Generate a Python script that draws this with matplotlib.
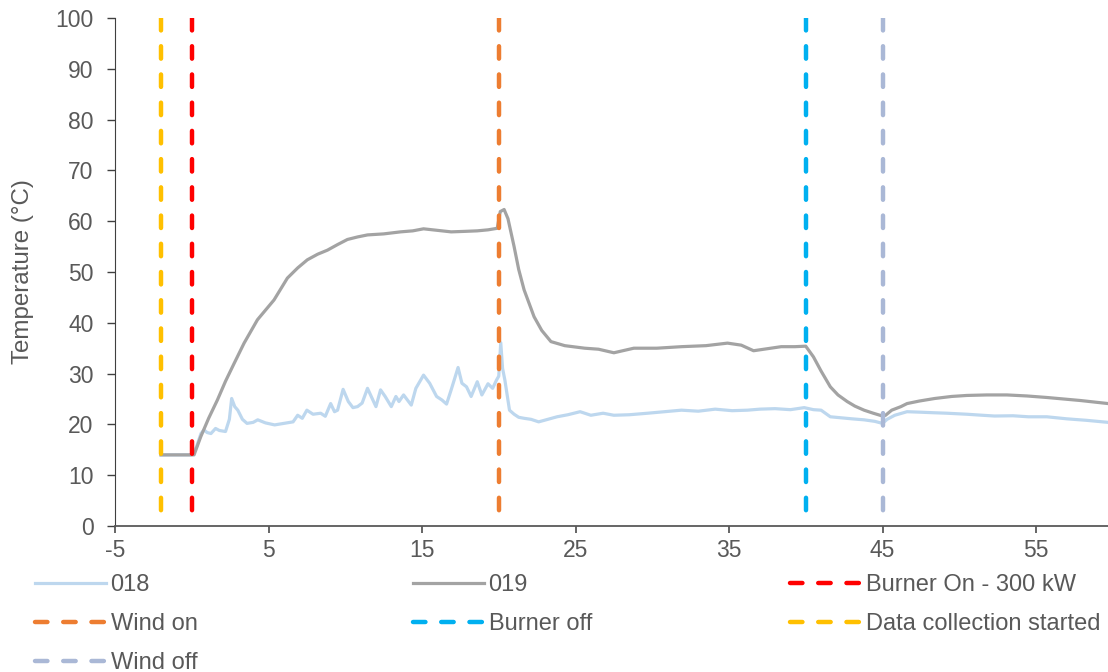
import matplotlib
matplotlib.use('Agg')
import matplotlib.pyplot as plt

plt.rcParams['font.family'] = ['Liberation Sans', 'DejaVu Sans']
plt.rcParams['axes.unicode_minus'] = False

# time (min) and temperature (degC)
x018 = [-2, 0, 0.3, 0.6, 0.8, 1.0, 1.25, 1.55, 1.8, 2.2,
        2.45, 2.6, 2.8, 3.0, 3.3, 3.6, 4.0, 4.3, 4.8, 5.4,
        6.0, 6.6, 6.9, 7.2, 7.5, 7.9, 8.4, 8.7, 9.05, 9.3,
        9.5, 9.86, 10.2, 10.5, 10.8, 11.1, 11.45, 11.8, 12.0, 12.3,
        12.6, 13.0, 13.3, 13.5, 13.8, 14.3, 14.6, 15.1, 15.5, 15.95,
        16.3, 16.6, 16.9, 17.35, 17.6, 17.9, 18.2, 18.6, 18.9, 19.3,
        19.6, 19.85, 20.0, 20.13, 20.25, 20.4, 20.7, 21.0, 21.3, 21.65,
        22.1, 22.6, 23.2, 23.8, 24.5, 25.3, 26.0, 26.8, 27.5, 28.5,
        29.7, 30.8, 31.9, 33.0, 34.1, 35.2, 36.2, 37.0, 38.0, 39.0,
        39.9, 40.5, 41.0, 41.6, 42.3, 43.0, 43.8, 44.5, 45.0, 45.3,
        45.8, 46.6, 47.5, 48.3, 49.2, 50.5, 51.5, 52.3, 53.5, 54.5,
        55.7, 57.0, 58.3, 59.7, 60]
y018 = [14, 14, 15.5, 18.2, 18.9, 18.4, 18.2, 19.2, 18.8, 18.6,
        21, 25.1, 23.5, 22.8, 21, 20.2, 20.4, 20.9, 20.3, 19.9,
        20.2, 20.5, 21.8, 21.2, 22.8, 22.0, 22.2, 21.6, 24.1, 22.5,
        22.8, 26.9, 24.5, 23.3, 23.5, 24.2, 27.1, 24.8, 23.5, 26.8,
        25.5, 23.5, 25.5, 24.5, 25.8, 23.8, 27.1, 29.7, 28.1, 25.5,
        24.8, 24.0, 26.8, 31.2, 28.1, 27.4, 25.5, 28.4, 25.8, 28.0,
        27.1, 28.7, 29.5, 36.1, 31, 28.7, 22.8, 22.0, 21.4, 21.2,
        21.0, 20.5, 21.0, 21.5, 21.9, 22.5, 21.8, 22.2, 21.8, 21.9,
        22.2, 22.5, 22.8, 22.6, 23.0, 22.7, 22.8, 23.0, 23.1, 22.9,
        23.3, 22.9, 22.8, 21.5, 21.3, 21.1, 20.9, 20.6, 20.2, 21.0,
        21.8, 22.5, 22.4, 22.3, 22.2, 22.0, 21.8, 21.65, 21.7, 21.5,
        21.5, 21.1, 20.8, 20.4, 20.3]

x019 = [-2, 0, 0.15, 0.59, 1.1, 1.67, 2.2, 2.76, 3.41, 4.28,
        5.36, 6.23, 6.9, 7.53, 8.2, 8.84, 9.5, 10.14, 10.8, 11.45,
        12.5, 13.6, 14.4, 15.1, 16.0, 16.9, 17.8, 18.6, 19.3, 19.9,
        20.1, 20.35, 20.6, 21.0, 21.3, 21.65, 22.3, 22.8, 23.4, 24.3,
        25.6, 26.5, 27.5, 28.8, 30.3, 31.9, 33.5, 34.9, 35.8, 36.6,
        37.5, 38.4, 39.3, 40.0, 40.5, 41.0, 41.6, 42.1, 42.7, 43.2,
        43.8, 44.4, 45.0, 45.2, 45.6, 46.2, 46.6, 47.4, 48.4, 49.5,
        50.5, 51.8, 53.1, 54.4, 55.7, 56.8, 57.9, 58.8, 59.7, 60]
y019 = [14, 14, 14.0, 17.6, 21.2, 24.8, 28.5, 32.0, 36.0, 40.6,
        44.5, 48.8, 50.8, 52.4, 53.5, 54.3, 55.4, 56.4, 56.9, 57.3,
        57.5, 57.9, 58.1, 58.5, 58.2, 57.9, 58.0, 58.1, 58.3, 58.6,
        61.9, 62.3, 60.5, 55.0, 50.5, 46.5, 41.2, 38.5, 36.3, 35.5,
        35.0, 34.8, 34.1, 35.0, 35.0, 35.3, 35.5, 36.0, 35.6, 34.5,
        34.9, 35.3, 35.3, 35.4, 33.3, 30.5, 27.4, 25.8, 24.5, 23.6,
        22.8, 22.2, 21.65, 21.8, 22.8, 23.5, 24.1, 24.6, 25.1, 25.5,
        25.7, 25.8, 25.8, 25.6, 25.3, 25.0, 24.7, 24.4, 24.1, 24.0]

event_names = ['Burner On - 300 kW', 'Wind on', 'Burner off',
               'Data collection started', 'Wind off']
event_times = [0, 20, 40, -2, 45]
event_colors = ['#ff0000', '#ed7d31', '#00b0f0', '#ffc000', '#aab8d6']

txt = '#595959'

fig = plt.figure(figsize=(11.08, 6.72), dpi=100)
ax = fig.add_axes([115 / 1108, 146 / 672, 997.75 / 1108, 508 / 672])

l018, = ax.plot(x018, y018, color='#bdd7ee', lw=2.3, label='018')
l019, = ax.plot(x019, y019, color='#a3a3a3', lw=2.3, label='019')

ev = {}
for name, t, c in zip(event_names, event_times, event_colors):
    # drawn top to bottom so the dash pattern starts at the top
    ln, = ax.plot([t, t], [100, 0], color=c, lw=3.2, dashes=(2.8, 3.55),
                  dash_capstyle='round', label=name)
    ev[name] = ln

ax.set_xlim(-5, 60)
ax.set_ylim(0, 100)
ax.set_xticks(range(-5, 60, 10))
ax.set_yticks(range(0, 101, 10))
ax.spines['top'].set_visible(False)
ax.spines['right'].set_visible(False)
ax.spines['left'].set_color('#404040')
ax.spines['bottom'].set_color('#595959')
ax.spines['bottom'].set_linewidth(1.3)
ax.tick_params(axis='y', length=5.5, width=1, color='#404040', pad=10,
               labelsize=16.5, labelcolor=txt)
ax.tick_params(axis='x', length=5, width=1.3, color='#595959', pad=4.5,
               labelsize=16.5, labelcolor=txt)
ax.set_ylabel('Temperature (°C)', fontsize=17.4, color=txt)
ax.yaxis.set_label_coords(-0.081, 0.5)

cols = [
    ([l018, ev['Wind on'], ev['Wind off']], 35),
    ([l019, ev['Burner off']], 413),
    ([ev['Burner On - 300 kW'], ev['Data collection started']], 790),
]
for handles, xpix in cols:
    leg = fig.legend(handles=handles, loc='upper left',
                     bbox_to_anchor=(xpix / 1108, (672 - 574) / 672),
                     frameon=False, fontsize=17, handlelength=3.0,
                     handletextpad=0.2, labelspacing=0.72, borderpad=0,
                     borderaxespad=0)
    for t in leg.get_texts():
        t.set_color(txt)

fig.savefig('out.png', dpi=100)
